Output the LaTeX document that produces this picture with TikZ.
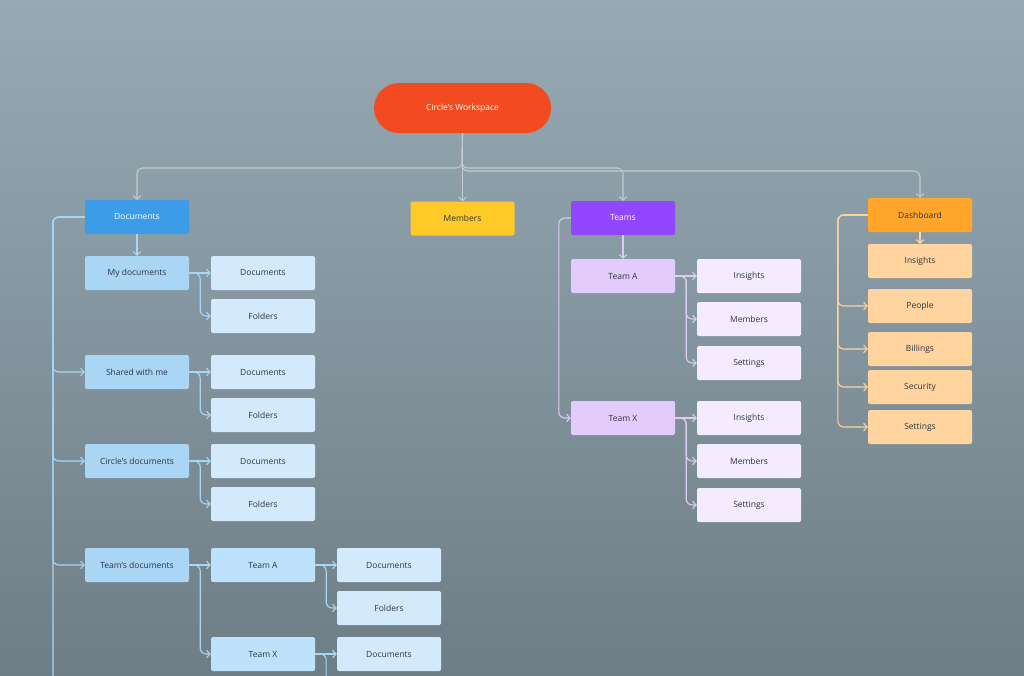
\documentclass[tikz,border=0pt]{standalone}
\usepackage{fontspec}
\setmainfont{Open Sans}
\usepackage{tikz}
\usetikzlibrary{positioning, arrows.meta, calc}
\usepackage{xcolor}
\definecolor{wsRoot}{HTML}{F24A21}
\definecolor{wsDocs}{HTML}{3C9CE7}
\definecolor{wsMembers}{HTML}{FFCA28}
\definecolor{wsTeams}{HTML}{9146FF}
\definecolor{wsDash}{HTML}{FFA62B}
\definecolor{wsBlueMid}{HTML}{A9D6F5}
\definecolor{wsBlueTeam}{HTML}{BFE2FC}
\definecolor{wsBlueLeaf}{HTML}{D3EAFD}
\definecolor{wsPurpleMid}{HTML}{E3CCFB}
\definecolor{wsPurpleLeaf}{HTML}{F4ECFE}
\definecolor{wsOrangeLeaf}{HTML}{FFD49E}
\definecolor{wsGreyLine}{HTML}{C3CBD0}
\definecolor{wsText}{HTML}{2D3540}
\definecolor{wsBgTop}{HTML}{97AAB4}
\definecolor{wsBgBot}{HTML}{6E7E87}

\tikzset{
  box/.style={rectangle, rounded corners=2pt, minimum width=104pt, minimum height=34pt,
    inner sep=0pt, font=\fontsize{8.5}{10}\selectfont, text=wsText},
  tip/.style={-{Straight Barb[length=3.5pt,width=7.5pt]}},
  gline/.style={draw=wsGreyLine, line width=1.1pt, rounded corners=6pt},
  bline/.style={draw=wsBlueMid, line width=1.1pt, rounded corners=6pt},
  pline/.style={draw=wsPurpleMid!80!wsGreyLine, line width=1.1pt, rounded corners=6pt},
  oline/.style={draw=wsOrangeLeaf, line width=1.1pt, rounded corners=6pt}
}

\begin{document}
\begin{tikzpicture}[x=1pt, y=-1pt]
  \clip (0,0) rectangle (1024,675);
  \shade[top color=wsBgTop, bottom color=wsBgBot] (0,0) rectangle (1024,675);

  % Root
  \node[box, fill=wsRoot, text=white!90!yellow, minimum width=177pt, minimum height=50pt,
    rounded corners=25pt] (root) at (462.5,108) {Circle's Workspace};

  % Level 1
  \node[box, fill=wsDocs, text=white] (docs) at (137,217) {Documents};
  \node[box, fill=wsMembers] (members) at (462.5,218.5) {Members};
  \node[box, fill=wsTeams, text=white] (teams) at (623,218) {Teams};
  \node[box, fill=wsDash] (dash) at (920,215) {Dashboard};

  % Documents subtree
  \foreach \name/\txt/\y in {mydoc/My documents/273, shared/Shared with me/372,
      circ/Circle's documents/461, teamdoc/Team's documents/565}
    \node[box, fill=wsBlueMid] (\name) at (137,\y) {\txt};
  \foreach \name/\txt/\x/\y in {d1/Documents/263/273, f1/Folders/263/316,
      d2/Documents/263/372, f2/Folders/263/415,
      d3/Documents/263/461, f3/Folders/263/504,
      d4/Documents/389/565, f4/Folders/389/608, d5/Documents/389/654}
    \node[box, fill=wsBlueLeaf] (\name) at (\x,\y) {\txt};
  \node[box, fill=wsBlueTeam] (ta) at (263,565) {Team A};
  \node[box, fill=wsBlueTeam] (tx) at (263,654) {Team X};

  % Teams subtree
  \node[box, fill=wsPurpleMid] (teamA) at (623,276) {Team A};
  \node[box, fill=wsPurpleMid] (teamX) at (623,418) {Team X};
  \foreach \name/\txt/\y in {ia/Insights/276, ma/Members/319, sa/Settings/363,
      ix/Insights/418, mx/Members/461, sx/Settings/505}
    \node[box, fill=wsPurpleLeaf] (\name) at (749,\y) {\txt};

  % Dashboard subtree
  \foreach \name/\txt/\y in {di/Insights/261, pe/People/306, bi/Billings/349,
      se/Security/387, st/Settings/427}
    \node[box, fill=wsOrangeLeaf] (\name) at (920,\y) {\txt};

  % Root connectors
  \coordinate (busA) at (462,168);
  \coordinate (busB) at (462,171);
  \draw[gline, tip] (root.south) -- (busA) -| (docs.north);
  \draw[gline, tip] (root.south) -- (members.north);
  \draw[gline, tip] (root.south) -- (busA) -| (teams.north);
  \draw[gline, tip] (root.south) -- (busB) -| (dash.north);

  % Documents connectors
  \coordinate (docsend) at (53,700);
  \coordinate (txend) at (326,700);
  \draw[bline, tip] (docs.south) -- (mydoc.north);
  \draw[bline] (docs.west) -| (docsend);
  \foreach \b in {shared, circ, teamdoc}
    \draw[bline, tip] (docs.west) -- ++(-32,0) |- (\b.west);
  \foreach \a/\b in {mydoc/d1, shared/d2, circ/d3, teamdoc/ta, ta/d4, tx/d5}
    \draw[bline, tip] (\a.east) -- (\b.west);
  \foreach \a/\b in {mydoc/f1, shared/f2, circ/f3, teamdoc/tx, ta/f4}
    \draw[bline, tip] (\a.east) -- ++(11,0) |- (\b.west);
  \draw[bline] (tx.east) -- ++(11,0) -- (txend);

  % Teams connectors
  \draw[pline, tip] (teams.south) -- (teamA.north);
  \draw[pline, tip] (teams.west) -- ++(-12,0) |- (teamX.west);
  \foreach \a/\b in {teamA/ia, teamX/ix}
    \draw[pline, tip] (\a.east) -- (\b.west);
  \foreach \a/\b in {teamA/ma, teamA/sa, teamX/mx, teamX/sx}
    \draw[pline, tip] (\a.east) -- ++(11,0) |- (\b.west);

  % Dashboard connectors
  \draw[oline, tip] (dash.south) -- (di.north);
  \foreach \b in {pe, bi, se, st}
    \draw[oline, tip] (dash.west) -- ++(-30,0) |- (\b.west);
\end{tikzpicture}
\end{document}
